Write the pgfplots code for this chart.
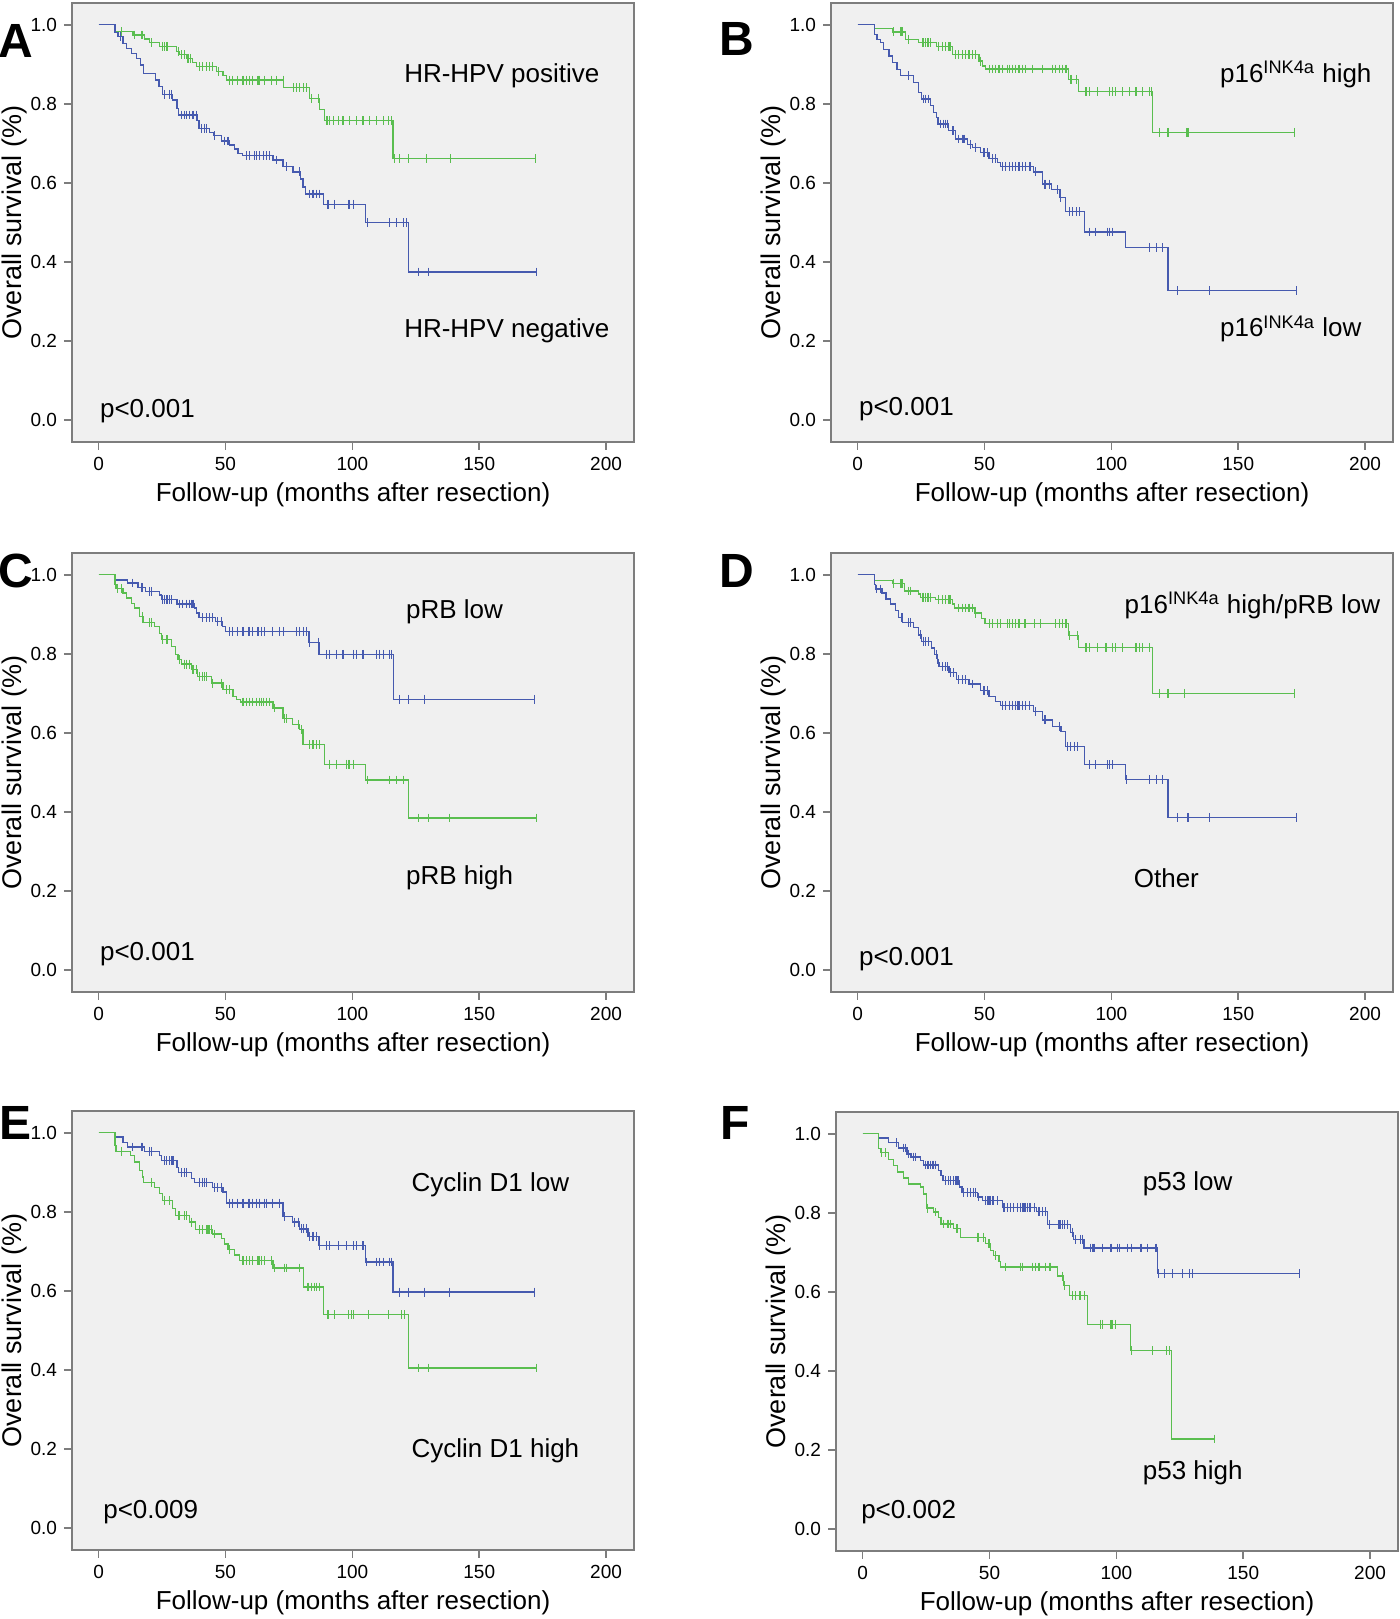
\documentclass[border=0pt]{standalone}
\usepackage{pgfplots}
\pgfplotsset{compat=1.18}
\usepackage{pgfplotstable}
\usepackage{fontspec}
\setmainfont{Liberation Sans}
\definecolor{kmgreen}{RGB}{90,190,80}
\definecolor{kmblue}{RGB}{70,90,175}
\definecolor{bgc}{RGB}{240,240,240}
\definecolor{framec}{RGB}{125,125,125}

% t = months, s = survival, c = 1 for censored observation
\pgfplotstableread{
t s c
0 1 0
6.5 0.983 0
8.9 0.983 1
13.5 0.974 0
14.2 0.974 1
16.8 0.974 1
17.4 0.974 1
18 0.964 0
20 0.955 0
20.7 0.955 1
24 0.945 0
25.3 0.945 1
26 0.945 1
26.7 0.945 1
27.3 0.945 1
30.6 0.932 0
31.4 0.932 1
32 0.924 0
32.6 0.924 1
33.9 0.924 1
34.5 0.915 0
35.2 0.915 1
36.3 0.915 1
37 0.904 0
38.5 0.894 0
39.8 0.894 1
41.1 0.894 1
42.4 0.894 1
43.7 0.894 1
45 0.894 1
46.4 0.881 0
47.4 0.881 1
49 0.871 0
50.3 0.86 0
51.6 0.86 1
52.9 0.86 1
54.9 0.86 1
56.9 0.86 1
58.2 0.86 1
59.5 0.86 1
60.8 0.86 1
62.8 0.86 1
63.5 0.86 1
65.4 0.86 1
68.1 0.86 1
70 0.86 1
72.7 0.86 1
72.9 0.841 0
76.9 0.841 1
77.9 0.841 1
79.2 0.841 1
80.6 0.841 1
81.9 0.841 1
83.2 0.814 0
83.9 0.814 1
86.5 0.814 1
87.1 0.786 0
89.1 0.757 0
90 0.757 1
91.1 0.757 1
92.4 0.757 1
94.4 0.757 1
96.3 0.757 1
99 0.757 1
101.6 0.757 1
104.2 0.757 1
106.9 0.757 1
109.5 0.757 1
112.1 0.757 1
114.1 0.757 1
115.4 0.757 1
116 0.662 0
116.6 0.662 1
118.7 0.662 1
122 0.662 1
129.2 0.662 1
138.7 0.662 1
172.1 0.662 1
}\Ag

\pgfplotstableread{
t s c
0 1 0
6.5 0.981 0
7.6 0.970 0
8.5 0.970 1
9.6 0.953 0
11.1 0.940 0
12.9 0.928 0
14.8 0.915 0
16.4 0.898 0
17.7 0.877 0
22.4 0.860 0
23.8 0.843 0
25.1 0.824 0
26 0.824 1
28 0.824 1
28.6 0.824 1
29 0.810 0
30.9 0.789 0
31.6 0.772 0
32.6 0.772 1
33.9 0.772 1
34.5 0.772 1
35.9 0.772 1
37.2 0.772 1
38.5 0.772 1
38.8 0.757 0
39.5 0.738 0
40.5 0.738 1
41.8 0.738 1
42.4 0.738 1
43.8 0.728 0
45.3 0.720 0
45.7 0.720 1
48.4 0.706 0
49.7 0.706 1
51 0.706 1
51.6 0.696 0
53.6 0.686 0
54.9 0.675 0
56.6 0.669 0
58.2 0.669 1
59.5 0.669 1
61.5 0.669 1
62.2 0.669 1
63.5 0.669 1
64.8 0.669 1
66.1 0.669 1
67.4 0.669 1
68.7 0.658 0
70 0.658 1
72.7 0.641 0
74 0.641 1
76.6 0.628 0
79 0.628 1
79.5 0.610 0
80.6 0.590 0
81.6 0.572 0
83.2 0.572 1
84.5 0.572 1
85.8 0.572 1
87.1 0.572 1
88.5 0.546 0
90.4 0.546 1
93 0.546 1
98.3 0.546 1
99 0.546 1
100.3 0.546 1
105.3 0.500 0
105.8 0.500 1
114.8 0.500 1
117.4 0.500 1
120 0.500 1
121.3 0.500 1
122.2 0.375 0
125.9 0.375 1
129.9 0.375 1
172.6 0.375 1
}\Ab

\pgfplotstableread{
t s c
0 1 0
6.6 0.990 0
13.6 0.982 0
14.0 0.982 1
16.9 0.982 1
17.5 0.982 1
18.8 0.963 0
20.2 0.963 1
24.1 0.955 0
25.4 0.955 1
26.1 0.955 1
26.7 0.955 1
27.4 0.955 1
28.1 0.955 1
28.7 0.955 1
31 0.945 0
32 0.945 1
33.3 0.945 1
34.7 0.945 1
36 0.945 1
36.6 0.945 1
37.3 0.925 0
38.6 0.925 1
39.9 0.925 1
41.2 0.925 1
42.6 0.925 1
43.9 0.925 1
45.2 0.925 1
46.5 0.925 1
47.8 0.908 0
48.5 0.908 1
49.1 0.896 0
50.5 0.888 0
51.8 0.888 1
53.1 0.888 1
54.4 0.888 1
55.7 0.888 1
57 0.888 1
59 0.888 1
59.7 0.888 1
61 0.888 1
62.3 0.888 1
63.6 0.888 1
64.9 0.888 1
66.3 0.888 1
68.9 0.888 1
72.9 0.888 1
76.8 0.888 1
78.1 0.888 1
79.4 0.888 1
80.8 0.888 1
82.1 0.888 1
83.1 0.862 0
84.1 0.862 1
86.1 0.862 1
87.1 0.831 0
90 0.831 1
91.3 0.831 1
94.6 0.831 1
99.2 0.831 1
100.5 0.831 1
101.8 0.831 1
104.5 0.831 1
107.1 0.831 1
109.7 0.831 1
112.4 0.831 1
115 0.831 1
115.7 0.831 1
116.1 0.728 0
119 0.728 1
122.3 0.728 1
129.5 0.728 1
130.2 0.728 1
172.3 0.728 1
}\Bg

\pgfplotstableread{
t s c
0 1 0
6.6 0.976 0
7.6 0.963 0
9 0.955 0
10.3 0.938 0
12.3 0.921 0
13.6 0.904 0
15.5 0.887 0
16.9 0.871 0
20.2 0.871 1
22.1 0.854 0
24.1 0.829 0
25.2 0.812 0
26.1 0.812 1
26.7 0.812 1
28.1 0.812 1
28.7 0.795 0
30 0.778 0
31 0.766 0
31.7 0.749 0
32.7 0.749 1
34 0.749 1
34.7 0.749 1
35.3 0.749 1
35.9 0.732 0
37.3 0.732 1
37.9 0.732 1
38.6 0.711 0
39.9 0.711 1
41.2 0.711 1
41.9 0.711 1
43.2 0.698 0
44.5 0.698 1
45.2 0.690 0
46.5 0.690 1
48.5 0.677 0
49.8 0.677 1
51.1 0.677 1
51.8 0.662 0
53.1 0.662 1
54.4 0.662 1
55.1 0.652 0
56.4 0.642 0
57 0.642 1
58.4 0.642 1
59.7 0.642 1
61 0.642 1
62.3 0.642 1
63.6 0.642 1
64.9 0.642 1
66.3 0.642 1
67.6 0.642 1
68.2 0.642 1
69.2 0.628 0
70.2 0.628 1
72.9 0.597 0
73.5 0.597 1
74.2 0.597 1
75.5 0.597 1
76.5 0.583 0
78.8 0.583 1
79.7 0.564 0
80.1 0.564 1
81.8 0.528 0
83.4 0.528 1
84.7 0.528 1
86.1 0.528 1
87.4 0.528 1
89.3 0.476 0
91.3 0.476 1
93.9 0.476 1
98.5 0.476 1
99.2 0.476 1
100.5 0.476 1
105.5 0.436 0
115 0.436 1
117.7 0.436 1
120.3 0.436 1
122.3 0.328 0
126.2 0.328 1
138.7 0.328 1
173 0.328 1
}\Bb

\pgfplotstableread{
t s c
0 1 0
6.5 0.987 0
11.5 0.979 0
13.5 0.979 1
15.5 0.968 0
16.8 0.968 1
17.4 0.968 1
18.5 0.958 0
20.1 0.958 1
20.7 0.958 1
24 0.949 0
24.7 0.937 0
25.3 0.937 1
26 0.937 1
26.7 0.937 1
27.3 0.937 1
28 0.937 1
28.6 0.937 1
30.9 0.926 0
31.9 0.926 1
33.2 0.926 1
34.5 0.926 1
35.9 0.926 1
36.5 0.926 1
37.2 0.926 1
37.8 0.916 0
38.5 0.903 0
39.5 0.892 0
41.1 0.892 1
42.4 0.892 1
43.7 0.892 1
45 0.892 1
46.1 0.882 0
47 0.882 1
48.3 0.882 1
48.7 0.869 0
50 0.857 0
51.6 0.857 1
52.9 0.857 1
54.9 0.857 1
56.9 0.857 1
58.9 0.857 1
59.5 0.857 1
60.8 0.857 1
62.8 0.857 1
64.1 0.857 1
65.4 0.857 1
68.7 0.857 1
71.4 0.857 1
72.7 0.857 1
77.9 0.857 1
79.2 0.857 1
80.6 0.857 1
81.9 0.857 1
82.9 0.829 0
83.2 0.829 1
86.5 0.829 1
86.9 0.799 0
89.8 0.799 1
91.1 0.799 1
93.7 0.799 1
96.3 0.799 1
100.3 0.799 1
101.6 0.799 1
104.2 0.799 1
109.5 0.799 1
110.8 0.799 1
112.1 0.799 1
114.8 0.799 1
115.4 0.799 1
116.1 0.685 0
118.7 0.685 1
122 0.685 1
128.6 0.685 1
171.9 0.685 1
}\Cb

\pgfplotstableread{
t s c
0 1 0
6.5 0.975 0
6.9 0.965 0
7.6 0.965 1
8.9 0.965 1
9.6 0.954 0
10.9 0.941 0
12.9 0.928 0
14.2 0.916 0
16.1 0.894 0
17.4 0.894 1
17.5 0.880 0
20.1 0.880 1
20.7 0.880 1
22 0.869 0
24 0.852 0
24.7 0.836 0
25.3 0.836 1
26.7 0.836 1
27.3 0.836 1
28.6 0.819 0
30.3 0.798 0
31.3 0.785 0
31.9 0.785 1
32.6 0.774 0
33.9 0.774 1
34.5 0.774 1
35.9 0.774 1
36.5 0.760 0
37.2 0.760 1
38.5 0.760 1
39.1 0.743 0
39.8 0.743 1
41.1 0.743 1
41.8 0.743 1
42.4 0.743 1
44.4 0.726 0
45 0.726 1
48.3 0.726 1
49 0.709 0
50.3 0.709 1
51.6 0.709 1
52.9 0.692 0
54.3 0.684 0
55.8 0.678 0
56.9 0.678 1
58.2 0.678 1
59.5 0.678 1
60.8 0.678 1
62.2 0.678 1
63.5 0.678 1
64.1 0.678 1
64.8 0.678 1
66.1 0.678 1
67.4 0.678 1
68.7 0.663 0
69.4 0.663 1
72.7 0.637 0
73.3 0.637 1
74 0.637 1
76.4 0.622 0
78.6 0.622 1
79.3 0.608 0
79.8 0.608 1
80.6 0.570 0
83.2 0.570 1
84.5 0.570 1
85.8 0.570 1
87.1 0.570 1
89.1 0.521 0
91.1 0.521 1
93.7 0.521 1
97.7 0.521 1
98.3 0.521 1
99 0.521 1
100.3 0.521 1
105.3 0.481 0
105.8 0.481 1
114.8 0.481 1
117.4 0.481 1
120 0.481 1
122 0.385 0
125.9 0.385 1
129.9 0.385 1
138.4 0.385 1
172.6 0.385 1
}\Cg

\pgfplotstableread{
t s c
0 1 0
6.6 0.986 0
13.6 0.977 0
14 0.977 1
16.9 0.977 1
17.5 0.977 1
18.6 0.959 0
20.2 0.959 1
20.8 0.959 1
24.1 0.951 0
24.8 0.943 0
25.4 0.943 1
26.1 0.943 1
26.7 0.943 1
27.4 0.943 1
28.1 0.943 1
28.7 0.943 1
30.7 0.937 0
32 0.937 1
33.3 0.937 1
34.7 0.937 1
36 0.937 1
36.6 0.937 1
37.3 0.926 0
38.3 0.916 0
39.9 0.916 1
41.2 0.916 1
42.6 0.916 1
43.9 0.916 1
45.2 0.916 1
46.2 0.903 0
46.5 0.903 1
48.9 0.890 0
50.2 0.876 0
51.8 0.876 1
53.1 0.876 1
55.1 0.876 1
56.4 0.876 1
59 0.876 1
59.7 0.876 1
61 0.876 1
62.3 0.876 1
63.6 0.876 1
65.6 0.876 1
66.3 0.876 1
69.6 0.876 1
72.2 0.876 1
78.1 0.876 1
79.4 0.876 1
80.8 0.876 1
82.1 0.876 1
83.1 0.847 0
83.4 0.847 1
86.7 0.847 1
87.1 0.816 0
90 0.816 1
91.3 0.816 1
94.6 0.816 1
97.9 0.816 1
100.5 0.816 1
101.8 0.816 1
104.5 0.816 1
109.7 0.816 1
111 0.816 1
112.4 0.816 1
115 0.816 1
116.3 0.700 0
119 0.700 1
122.3 0.700 1
128.9 0.700 1
172.3 0.700 1
}\Dg

\pgfplotstableread{
t s c
0 1 0
6.6 0.975 0
7 0.964 0
7.6 0.964 1
8.9 0.964 1
9.6 0.954 0
11.2 0.939 0
12.9 0.926 0
14.9 0.909 0
16.2 0.892 0
17.5 0.892 1
17.8 0.880 0
20.2 0.880 1
20.8 0.880 1
22.1 0.867 0
24.1 0.848 0
24.8 0.848 1
25.2 0.832 0
26.1 0.832 1
26.7 0.832 1
28.1 0.832 1
29.1 0.815 0
30.4 0.798 0
31 0.798 1
31.4 0.777 0
32 0.777 1
32.3 0.768 0
33.3 0.768 1
34.7 0.768 1
35.5 0.768 1
36 0.752 0
36.6 0.752 1
37.9 0.752 1
38.9 0.735 0
39.9 0.735 1
41.2 0.735 1
42.6 0.735 1
43.9 0.724 0
45.2 0.724 1
48.5 0.707 0
49.8 0.707 1
51.1 0.707 1
51.8 0.692 0
54.4 0.680 0
56.4 0.670 0
57 0.670 1
58.4 0.670 1
59.7 0.670 1
61 0.670 1
62.3 0.670 1
63 0.670 1
63.6 0.670 1
65 0.670 1
66.3 0.670 1
67.6 0.670 1
69.2 0.654 0
70.2 0.654 1
72.9 0.633 0
73.5 0.633 1
74.2 0.633 1
76.8 0.617 0
79.4 0.617 1
80.1 0.604 0
81.8 0.566 0
82.7 0.566 1
84 0.566 1
85.4 0.566 1
86.7 0.566 1
89.3 0.520 0
91.3 0.520 1
93.9 0.520 1
98.5 0.520 1
99.2 0.520 1
100.5 0.520 1
105.5 0.482 0
105.8 0.482 1
115 0.482 1
117.7 0.482 1
120.3 0.482 1
122.3 0.386 0
126.2 0.386 1
130.2 0.386 1
138.7 0.386 1
173 0.386 1
}\Db

\pgfplotstableread{
t s c
0 1 0
6.5 0.989 0
9.6 0.976 0
11.5 0.964 0
13.5 0.964 1
16.8 0.964 1
17.4 0.964 1
18.1 0.953 0
20.1 0.953 1
20.7 0.953 1
24 0.942 0
24.7 0.930 0
26 0.930 1
26.7 0.930 1
28 0.930 1
28.6 0.930 1
29.3 0.930 1
30.9 0.913 0
31.6 0.900 0
32.6 0.900 1
33.9 0.900 1
34.5 0.900 1
36.5 0.885 0
37.8 0.875 0
39.8 0.875 1
41.1 0.875 1
41.8 0.875 1
42.4 0.875 1
44.8 0.862 0
45.7 0.862 1
47 0.862 1
48.3 0.862 1
49 0.850 0
50.3 0.822 0
51.6 0.822 1
52.9 0.822 1
54.9 0.822 1
56.9 0.822 1
58.9 0.822 1
59.5 0.822 1
60.8 0.822 1
62.2 0.822 1
63.5 0.822 1
65.4 0.822 1
66.1 0.822 1
68.7 0.822 1
71.4 0.822 1
72.7 0.788 0
73.3 0.788 1
76.4 0.774 0
77.3 0.774 1
78.6 0.774 1
79.3 0.757 0
79.9 0.757 1
80.6 0.757 1
81.9 0.757 1
82.5 0.738 0
83.2 0.738 1
84.5 0.738 1
85.8 0.738 1
86.9 0.715 0
87.1 0.715 1
89.8 0.715 1
91.1 0.715 1
94.4 0.715 1
97.7 0.715 1
100.3 0.715 1
101.6 0.715 1
104.2 0.715 1
105.3 0.673 0
105.5 0.673 1
109.5 0.673 1
110.8 0.673 1
112.1 0.673 1
114.8 0.673 1
115.4 0.673 1
116 0.597 0
118.7 0.597 1
122 0.597 1
128.6 0.597 1
138.4 0.597 1
171.9 0.597 1
}\Eb

\pgfplotstableread{
t s c
0 1 0
6.5 0.968 0
6.9 0.953 0
8.9 0.953 1
12.5 0.942 0
14.2 0.926 0
16.1 0.905 0
17.2 0.888 0
17.7 0.875 0
20.7 0.875 1
22 0.862 0
24 0.846 0
25.1 0.829 0
26 0.829 1
28 0.829 1
29 0.809 0
30.3 0.791 0
31.3 0.791 1
31.9 0.791 1
33.9 0.791 1
34.5 0.791 1
35.9 0.774 0
36.5 0.774 1
38.2 0.755 0
39.8 0.755 1
41.1 0.755 1
42.4 0.755 1
43.1 0.755 1
43.7 0.755 1
44.4 0.755 1
44.8 0.744 0
45.7 0.744 1
48.3 0.732 0
49.7 0.719 0
51 0.705 0
51.6 0.705 1
53.6 0.691 0
55.6 0.677 0
56.9 0.677 1
58.2 0.677 1
59.5 0.677 1
60.8 0.677 1
62.8 0.677 1
63.5 0.677 1
64.1 0.677 1
65.4 0.677 1
68.1 0.677 1
68.7 0.658 0
69.4 0.658 1
73.3 0.658 1
74 0.658 1
79.3 0.658 1
80.8 0.610 0
82.5 0.610 1
83.9 0.610 1
85.2 0.610 1
85.8 0.610 1
87.1 0.610 1
88.5 0.540 0
90.4 0.540 1
93 0.540 1
98.3 0.540 1
99.6 0.540 1
100.3 0.540 1
106.2 0.540 1
114.1 0.540 1
119.4 0.540 1
120.7 0.540 1
122 0.405 0
125.9 0.405 1
129.9 0.405 1
172.6 0.405 1
}\Eg

\pgfplotstableread{
t s c
0 1 0
6.3 0.989 0
10.2 0.977 0
13.5 0.977 1
14.2 0.964 0
16.2 0.964 1
16.8 0.964 1
17.5 0.949 0
18.1 0.949 1
19 0.941 0
20.1 0.941 1
20.7 0.941 1
22.8 0.932 0
24.1 0.921 0
24.7 0.921 1
25.4 0.921 1
26 0.921 1
26.7 0.921 1
27.4 0.921 1
28 0.921 1
28.7 0.921 1
30 0.907 0
30.9 0.894 0
31.7 0.882 0
32.6 0.882 1
33.9 0.882 1
34.6 0.882 1
35.9 0.882 1
36.6 0.882 1
37.2 0.882 1
37.9 0.882 1
38.3 0.865 0
39.2 0.852 0
39.9 0.852 1
41.2 0.852 1
42.5 0.852 1
43.8 0.852 1
44.5 0.852 1
45.2 0.840 0
45.8 0.840 1
47.1 0.831 0
48.4 0.831 1
49.1 0.831 1
49.8 0.831 1
50.4 0.831 1
51.1 0.831 1
51.7 0.831 1
53 0.831 1
55 0.814 0
55.7 0.814 1
57 0.814 1
58.3 0.814 1
59.6 0.814 1
61 0.814 1
62.3 0.814 1
62.9 0.814 1
63.6 0.814 1
64.3 0.814 1
64.9 0.814 1
65.6 0.814 1
66.2 0.814 1
67.6 0.814 1
68.6 0.803 0
69.5 0.803 1
70.8 0.803 1
72.2 0.803 1
72.8 0.770 0
73.5 0.770 1
77.4 0.770 1
78.1 0.770 1
78.7 0.770 1
79.4 0.770 1
80.7 0.770 1
81.8 0.751 0
82.7 0.751 1
83.1 0.733 0
84 0.733 1
86 0.733 1
86.6 0.733 1
87.3 0.711 0
89.9 0.711 1
90.6 0.711 1
91.2 0.711 1
94.6 0.711 1
97.9 0.711 1
100.5 0.711 1
101.1 0.711 1
104.4 0.711 1
105.8 0.711 1
109.7 0.711 1
112.3 0.711 1
115.6 0.711 1
116.3 0.646 0
116.6 0.646 1
118.9 0.646 1
122.2 0.646 1
126.2 0.646 1
128.8 0.646 1
130.1 0.646 1
172.3 0.646 1
}\Fb

\pgfplotstableread{
t s c
0 1 0
6.3 0.962 0
7 0.952 0
7.6 0.952 1
8.9 0.952 1
10.2 0.935 0
12.2 0.920 0
13.8 0.903 0
16.2 0.888 0
18.1 0.873 0
22.8 0.865 0
24.1 0.848 0
25.1 0.812 0
25.4 0.812 1
28 0.802 0
28.7 0.802 1
30 0.789 0
30.9 0.772 0
32 0.772 1
33.3 0.772 1
33.9 0.772 1
34.6 0.772 1
35.9 0.760 0
37.2 0.760 1
38.6 0.738 0
45.2 0.738 1
45.8 0.738 1
47.8 0.738 1
48.4 0.722 0
49.8 0.722 1
50.4 0.705 0
51.7 0.692 0
52.4 0.692 1
53.7 0.677 0
54.4 0.663 0
56.4 0.663 1
62.3 0.663 1
62.9 0.663 1
66.9 0.663 1
68.2 0.663 1
69.5 0.663 1
72.2 0.663 1
73.5 0.663 1
74.1 0.663 1
76.8 0.640 0
78.7 0.640 1
79.1 0.616 0
79.4 0.616 1
81.4 0.591 0
82.7 0.591 1
84 0.591 1
85.3 0.591 1
86 0.591 1
87.3 0.591 1
88.6 0.518 0
93.9 0.518 1
94.6 0.518 1
97.9 0.518 1
98.5 0.518 1
99.8 0.518 1
105.5 0.452 0
105.8 0.452 1
114.3 0.452 1
119.6 0.452 1
120.9 0.452 1
121.8 0.228 0
138.7 0.228 1
}\Fg

\pgfplotsset{
  km/.style={
    scale only axis, width=281pt, height=219.5pt,
    xmin=-10.5, xmax=211, ymin=-0.055, ymax=1.055,
    xtick={0,50,100,150,200}, ytick={0,0.2,0.4,0.6,0.8,1},
    /pgf/number format/assume math mode=true,
    yticklabel style={/pgf/number format/fixed,/pgf/number format/fixed zerofill,/pgf/number format/precision=1},
    axis background/.style={fill=bgc},
    axis line style={framec, line width=1pt},
    tick style={framec, line width=0.8pt},
    tick align=outside, tick pos=left, major tick length=4pt,
    ticklabel style={font=\fontsize{9.5}{11}\selectfont},
    xlabel={Follow-up (months after resection)},
    ylabel={Overall survival (\%)},
    xlabel style={font=\fontsize{13}{15}\selectfont, at={(axis description cs:0.5,-0.12)}, anchor=center},
    ylabel style={font=\fontsize{13.5}{15}\selectfont, at={(axis description cs:-0.103,0.5)}, anchor=center},
    clip=false,
    unbounded coords=discard,
  },
}
\newcommand{\lab}{\fontsize{13}{15}\selectfont}
% step line of a survival curve
\newcommand{\kmline}[2]{\addplot[const plot, mark=none, #1, line width=0.65pt] table[x=t,y=s] {#2};}
% censoring ticks of a survival curve (rows with c = 1)
\newcommand{\kmcens}[2]{\addplot[only marks, mark=|, mark size=2.2pt, #1, mark options={line width=0.55pt}, restrict expr to domain={\thisrow{c}}{0.5:1.5}] table[x=t,y=s] {#2};}

\begin{document}
\begin{tikzpicture}
\useasboundingbox (0,0) rectangle (700pt,809.5pt);

% ---------- A ----------
\begin{axis}[km, at={(36pt,588.5pt)}, anchor=south west]
\kmline{kmgreen}{\Ag}
\kmcens{kmgreen}{\Ag}
\kmline{kmblue}{\Ab}
\kmcens{kmblue}{\Ab}
\node[anchor=base west, font=\lab, inner sep=0pt] at (axis cs:120.3,0.853) {HR-HPV positive};
\node[anchor=base west, font=\lab, inner sep=0pt] at (axis cs:120.3,0.209) {HR-HPV negative};
\node[anchor=base west, font=\lab, inner sep=0pt] at (axis cs:0.4,0.008) {p<0.001};
\end{axis}

% ---------- B ----------
\begin{axis}[km, at={(415.5pt,588.5pt)}, anchor=south west]
\kmline{kmgreen}{\Bg}
\kmcens{kmgreen}{\Bg}
\kmline{kmblue}{\Bb}
\kmcens{kmblue}{\Bb}
\node[anchor=base west, font=\lab, inner sep=0pt] at (axis cs:142.7,0.854) {p16\textsuperscript{INK4a} high};
\node[anchor=base west, font=\lab, inner sep=0pt] at (axis cs:142.7,0.211) {p16\textsuperscript{INK4a} low};
\node[anchor=base west, font=\lab, inner sep=0pt] at (axis cs:0.4,0.013) {p<0.001};
\end{axis}

% ---------- C ----------
\begin{axis}[km, at={(36pt,313.5pt)}, anchor=south west]
\kmline{kmblue}{\Cb}
\kmcens{kmblue}{\Cb}
\kmline{kmgreen}{\Cg}
\kmcens{kmgreen}{\Cg}
\node[anchor=base west, font=\lab, inner sep=0pt] at (axis cs:121,0.890) {pRB low};
\node[anchor=base west, font=\lab, inner sep=0pt] at (axis cs:121,0.216) {pRB high};
\node[anchor=base west, font=\lab, inner sep=0pt] at (axis cs:0.4,0.025) {p<0.001};
\end{axis}

% ---------- D ----------
\begin{axis}[km, at={(415.5pt,313.5pt)}, anchor=south west]
\kmline{kmgreen}{\Dg}
\kmcens{kmgreen}{\Dg}
\kmline{kmblue}{\Db}
\kmcens{kmblue}{\Db}
\node[anchor=base west, font=\lab, inner sep=0pt] at (axis cs:105.1,0.903) {p16\textsuperscript{INK4a} high/pRB low};
\node[anchor=base west, font=\lab, inner sep=0pt] at (axis cs:108.7,0.208) {Other};
\node[anchor=base west, font=\lab, inner sep=0pt] at (axis cs:0.4,0.011) {p<0.001};
\end{axis}

% ---------- E ----------
\begin{axis}[km, at={(36pt,34.5pt)}, anchor=south west]
\kmline{kmblue}{\Eb}
\kmcens{kmblue}{\Eb}
\kmline{kmgreen}{\Eg}
\kmcens{kmgreen}{\Eg}
\node[anchor=base west, font=\lab, inner sep=0pt] at (axis cs:123.2,0.851) {Cyclin D1 low};
\node[anchor=base west, font=\lab, inner sep=0pt] at (axis cs:123.2,0.180) {Cyclin D1 high};
\node[anchor=base west, font=\lab, inner sep=0pt] at (axis cs:1.7,0.0245) {p<0.009};
\end{axis}

% ---------- F ----------
\begin{axis}[km, at={(418pt,34pt)}, anchor=south west]
\kmline{kmblue}{\Fb}
\kmcens{kmblue}{\Fb}
\kmline{kmgreen}{\Fg}
\kmcens{kmgreen}{\Fg}
\node[anchor=base west, font=\lab, inner sep=0pt] at (axis cs:110.3,0.857) {p53 low};
\node[anchor=base west, font=\lab, inner sep=0pt] at (axis cs:110.3,0.126) {p53 high};
\node[anchor=base west, font=\lab, inner sep=0pt] at (axis cs:-0.7,0.027) {p<0.002};
\end{axis}

% panel letters
\node[font=\fontsize{24}{26}\selectfont\bfseries] at (7.75pt,789pt) {A};
\node[font=\fontsize{24}{26}\selectfont\bfseries] at (368.5pt,790pt) {B};
\node[font=\fontsize{24}{26}\selectfont\bfseries] at (7.75pt,524pt) {C};
\node[font=\fontsize{24}{26}\selectfont\bfseries] at (368.5pt,524pt) {D};
\node[font=\fontsize{24}{26}\selectfont\bfseries] at (7.75pt,248pt) {E};
\node[font=\fontsize{24}{26}\selectfont\bfseries] at (367.5pt,248pt) {F};
\end{tikzpicture}
\end{document}
